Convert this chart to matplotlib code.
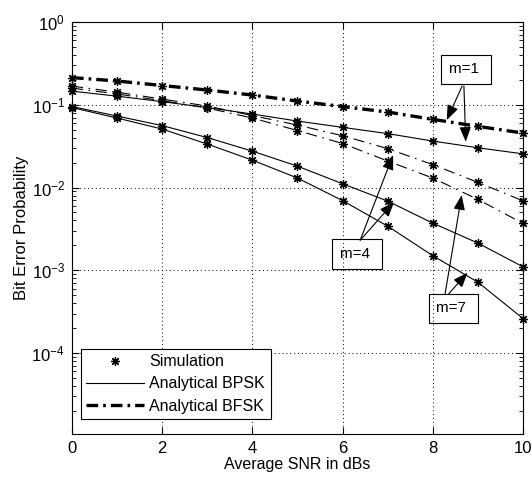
import matplotlib
matplotlib.use('Agg')
import matplotlib.pyplot as plt
from matplotlib.lines import Line2D
from matplotlib.ticker import LogLocator, NullFormatter, FixedLocator

plt.rcParams['font.family'] = ['Liberation Sans', 'DejaVu Sans']
plt.rcParams['mathtext.default'] = 'regular'
plt.rcParams['axes.unicode_minus'] = False

# average SNR (dB)
snr_db = [0, 1, 2, 3, 4, 5, 6, 7, 8, 9, 10]

# bit error probability
bpsk_m1 = [0.146, 0.127, 0.109, 0.0925, 0.0772, 0.0635, 0.0533, 0.0448, 0.0364, 0.0302, 0.0255]
bpsk_m4 = [0.0951, 0.0730, 0.0560, 0.0401, 0.0275, 0.0181, 0.0111, 0.00685, 0.00371, 0.00213, 0.00110]
bpsk_m7 = [0.0925, 0.0691, 0.0508, 0.0335, 0.0214, 0.0130, 0.00694, 0.00341, 0.00150, 0.000718, 0.000261]
bfsk_m1 = [0.213, 0.1935, 0.1707, 0.1506, 0.1310, 0.1108, 0.0951, 0.0816, 0.0666, 0.0548, 0.0455]
bfsk_m4 = [0.168, 0.142, 0.117, 0.0965, 0.0740, 0.0568, 0.0422, 0.0295, 0.0189, 0.01153, 0.00691]
bfsk_m7 = [0.159, 0.135, 0.112, 0.0912, 0.0691, 0.0488, 0.0340, 0.0209, 0.0130, 0.00718, 0.00368]

ast = (8, 2, 0)  # matlab style asterisk
thick_dd = (0, (3.5, 1.5, 0.8, 1.5))
thin_dd = (0, (10, 5, 1.5, 5))

fig = plt.figure(figsize=(5.32, 4.79), dpi=100)
ax = fig.add_axes([0.1353, 0.0939, 0.8478, 0.8602])

for y in [bpsk_m1, bpsk_m4, bpsk_m7]:
    ax.plot(snr_db, y, '-', color='k', lw=0.8)
ax.plot(snr_db, bfsk_m1, color='k', lw=2.4, linestyle=thick_dd)
for y in [bfsk_m4, bfsk_m7]:
    ax.plot(snr_db, y, color='k', lw=0.8, linestyle=thin_dd)

for y in [bpsk_m1, bpsk_m4, bpsk_m7, bfsk_m1, bfsk_m4, bfsk_m7]:
    ax.plot(snr_db, y, ls='none', marker=ast, ms=6.5, mew=0.9, color='k', clip_on=False)

ax.set_yscale('log')
ax.set_xlim(0, 10)
ax.set_ylim(1.05e-5, 1)
ax.set_xticks([0, 2, 4, 6, 8, 10])
ax.yaxis.set_major_locator(FixedLocator([1e-4, 1e-3, 1e-2, 1e-1, 1e0]))
ax.yaxis.set_minor_locator(LogLocator(base=10, subs=range(2, 10), numticks=20))
ax.yaxis.set_minor_formatter(NullFormatter())
ax.tick_params(which='both', direction='in', top=True, right=True, labelsize=12)
ax.tick_params(which='major', length=5, pad=5)
ax.tick_params(which='minor', length=3)
ax.grid(True, which='major', color='k', ls=(0, (1, 3)), lw=0.7)
for s in ax.spines.values():
    s.set_linewidth(0.8)

ax.set_xlabel('Average SNR in dBs', fontsize=11.5, labelpad=1)
ax.set_ylabel('Bit Error Probability', fontsize=12, labelpad=2)

handles = [
    Line2D([], [], ls='none', marker=ast, ms=6.5, mew=0.9, color='k'),
    Line2D([], [], ls='-', lw=0.8, color='k'),
    Line2D([], [], lw=2.4, linestyle=thick_dd, color='k'),
]
leg = ax.legend(handles, ['Simulation', 'Analytical BPSK', 'Analytical BFSK'],
                loc='lower left', bbox_to_anchor=(0.019, 0.036), fontsize=11.5,
                fancybox=False, edgecolor='k', framealpha=1, borderpad=0.35,
                handlelength=3.6, handletextpad=0.35, labelspacing=0.45,
                borderaxespad=0)
leg.get_frame().set_linewidth(0.8)

box = dict(boxstyle='square,pad=0.5', fc='none', ec='k', lw=0.8)
arr = dict(arrowstyle='-|>,head_length=0.9,head_width=0.35', color='k', lw=0.8,
           shrinkA=0, shrinkB=0)

ax.text(8.74, 0.268, 'm=1 ', fontsize=11, ha='center', va='center', bbox=box)
ax.annotate('', xy=(8.31, 0.0653), xytext=(8.65, 0.168), arrowprops=arr)
ax.annotate('', xy=(8.73, 0.0357), xytext=(8.69, 0.168), arrowprops=arr)

ax.text(6.32, 0.00157, 'm=4 ', fontsize=11, ha='center', va='center', bbox=box)
ax.annotate('', xy=(7.12, 0.0247), xytext=(6.39, 0.00231), arrowprops=arr)
ax.annotate('', xy=(7.14, 0.00666), xytext=(6.39, 0.00231), arrowprops=arr)

ax.text(8.455, 0.000348, 'm=7 ', fontsize=11, ha='center', va='center', bbox=box)
ax.annotate('', xy=(8.64, 0.00809), xytext=(8.27, 0.00051), arrowprops=arr)
ax.annotate('', xy=(8.77, 0.000935), xytext=(8.34, 0.00051), arrowprops=arr)

fig.savefig('out.png', dpi=100)
